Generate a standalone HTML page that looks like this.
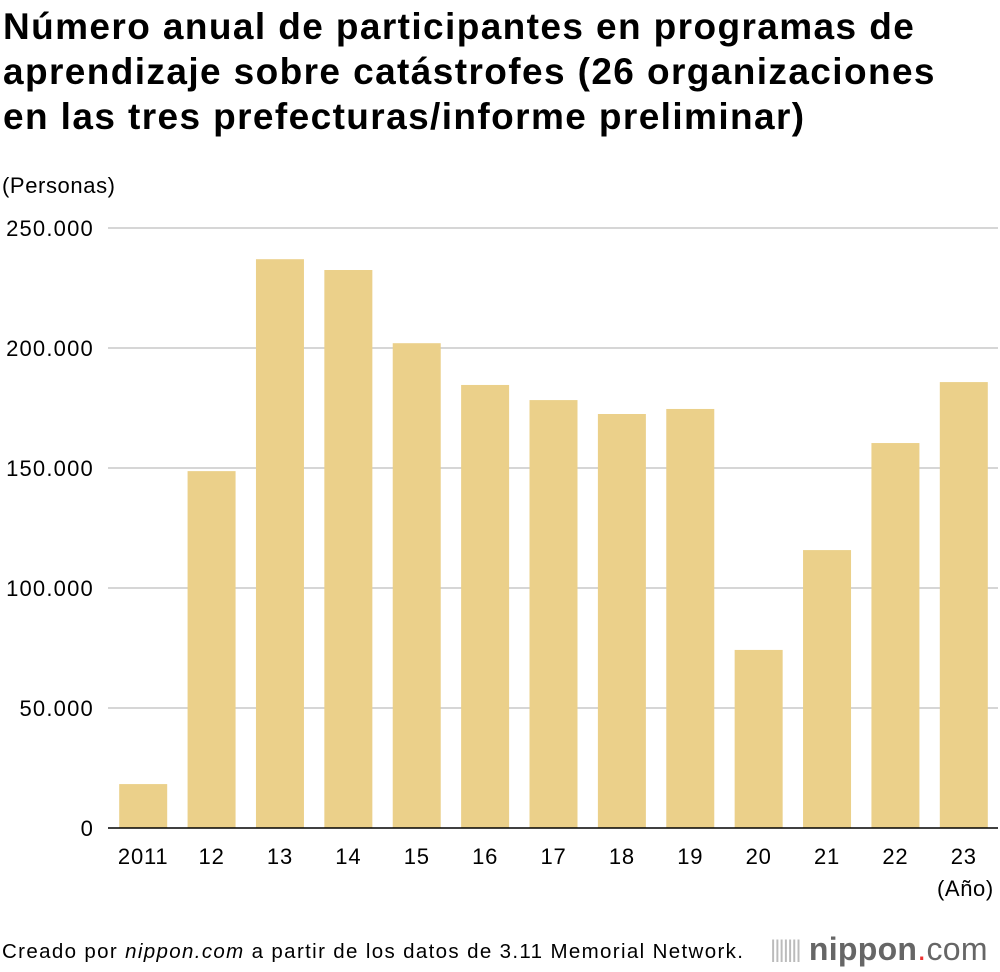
<!DOCTYPE html>
<html><head><meta charset="utf-8"><style>
body{margin:0;background:#fff;font-family:"Liberation Sans",sans-serif;color:#000}
#wrap{position:relative;width:1000px;height:972px;overflow:hidden}
h1{position:absolute;left:3px;top:4px;margin:0;font-size:37px;line-height:45px;font-weight:bold;letter-spacing:1.4px;white-space:nowrap}
.t{position:absolute;font-size:22px;letter-spacing:0.6px}
</style></head><body><div id="wrap">
<h1>Número anual de participantes en programas de<br>aprendizaje sobre catástrofes (26 organizaciones<br>en las tres prefecturas/informe preliminar)</h1>
<div class="t" style="left:2px;top:173px">(Personas)</div>
<svg id="chart" width="1000" height="972" style="position:absolute;left:0;top:0"></svg>
<div class="t" style="left:937px;top:876px">(Año)</div>
<div style="position:absolute;left:2px;top:940px;font-size:20.5px;letter-spacing:1.35px;white-space:nowrap">Creado por <i>nippon.com</i> a partir de los datos de 3.11 Memorial Network.</div>
<div style="position:absolute;left:770px;top:931px;font-size:32px;color:#666;letter-spacing:0.3px;white-space:nowrap"><span style="color:#bbb;font-size:24px;letter-spacing:-2px;vertical-align:3px">|||||||</span> <b>nippon</b><span style="color:#e33">.</span>com</div>
</div>
<script>
const categories=["2011","12","13","14","15","16","17","18","19","20","21","22","23"];
const values=[18300,148700,237000,232500,202000,184600,178300,172500,174600,74200,115800,160400,185800];
const ticks=[0,50000,100000,150000,200000,250000];
const tickLabels=["0","50.000","100.000","150.000","200.000","250.000"];
const svg=document.getElementById('chart');const NS='http://www.w3.org/2000/svg';
const x0=109,x1=998,y0=828,y1=228,maxV=250000;
const y=v=>y0-(v/maxV)*(y0-y1);
const bw=(x1-x0)/categories.length;
function mk(t,a){const e=document.createElementNS(NS,t);for(const k in a)e.setAttribute(k,a[k]);svg.appendChild(e);return e;}
ticks.forEach((v,i)=>{
 if(v>0){const l=mk('line',{x1:108,x2:998,y1:y(v),y2:y(v),stroke:'#c8c8c8','stroke-width':1.5});
 
 }
 const t=mk('text',{x:94,y:y(v)+8,'text-anchor':'end','font-size':22,'letter-spacing':1.2,'font-family':'Liberation Sans, sans-serif'});t.textContent=tickLabels[i];
 
 
});
values.forEach((v,i)=>{
 const cx=x0+bw*(i+0.5);
 const r=mk('rect',{x:cx-24,y:y(v),width:48,height:y0-y(v),fill:'#ebd08a'});
 
 
 const t=mk('text',{x:cx,y:864,'text-anchor':'middle','font-size':22,'letter-spacing':0.8,'font-family':'Liberation Sans, sans-serif'});t.textContent=categories[i];
 
 
});
const ax=mk('line',{x1:108,x2:998,y1:y0,y2:y0,stroke:'#000','stroke-width':1.5});


</script></body></html>
